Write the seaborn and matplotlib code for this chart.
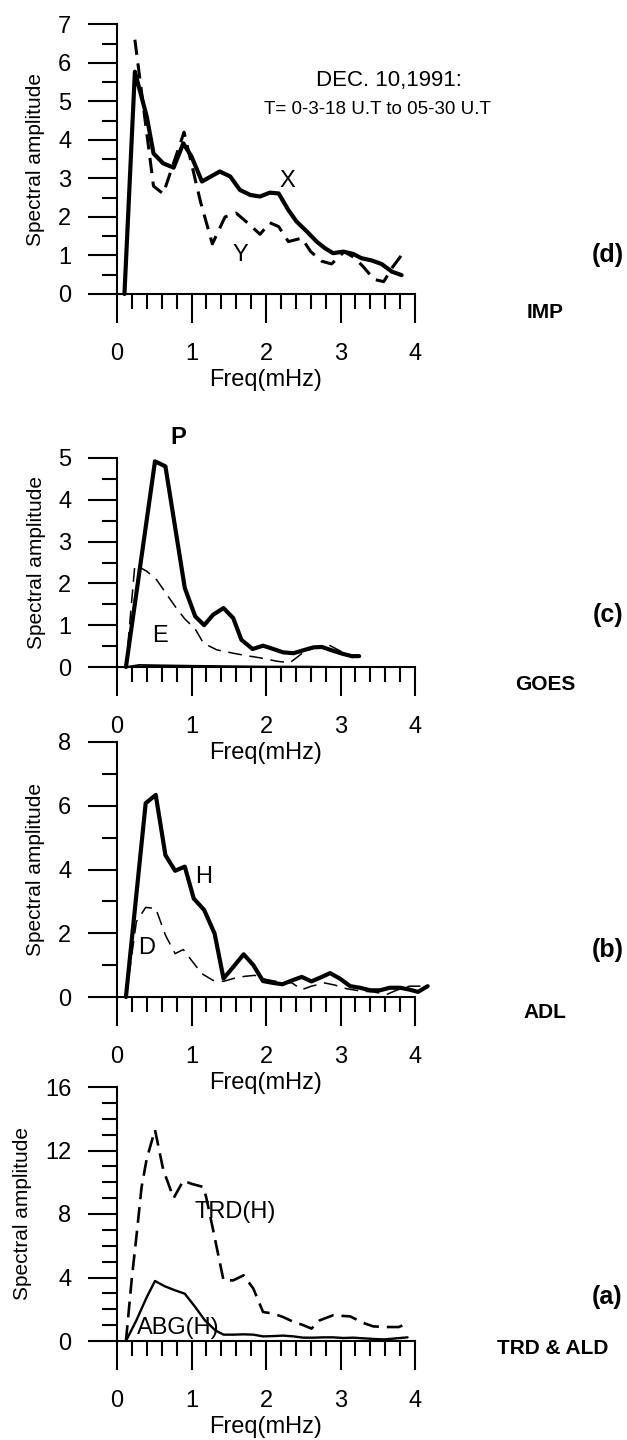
import matplotlib
matplotlib.use("Agg")
import matplotlib.pyplot as plt
import seaborn as sns
from matplotlib.ticker import MultipleLocator

# (d) IMP
imp_x_freq = [0.10, 0.24, 0.40, 0.49, 0.62, 0.76, 0.89, 1.00, 1.14, 1.38, 1.52, 1.65, 1.79, 1.92,
              2.05, 2.17, 2.30, 2.41, 2.55, 2.68, 2.79, 2.90, 3.04, 3.17, 3.28, 3.42, 3.55, 3.69, 3.82]
imp_x_amp = [0.0, 5.77, 4.6, 3.65, 3.39, 3.28, 3.91, 3.57, 2.92, 3.18, 3.05, 2.7, 2.57, 2.53,
             2.63, 2.61, 2.18, 1.88, 1.62, 1.36, 1.19, 1.06, 1.10, 1.04, 0.93, 0.87, 0.78, 0.58, 0.49]
imp_y_freq = [0.24, 0.49, 0.62, 0.90, 1.12, 1.28, 1.45, 1.60, 1.75, 1.92, 2.05, 2.17, 2.30, 2.48,
              2.60, 2.75, 2.88, 3.05, 3.18, 3.30, 3.45, 3.58, 3.70, 3.82]
imp_y_amp = [6.6, 2.8, 2.6, 4.2, 2.4, 1.3, 2.0, 2.1, 1.85, 1.55, 1.85, 1.75, 1.36, 1.45,
             1.1, 0.85, 0.78, 1.1, 0.95, 0.72, 0.38, 0.32, 0.7, 1.01]

# (c) GOES
goes_p_freq = [0.12, 0.51, 0.65, 0.91, 1.05, 1.17, 1.29, 1.43, 1.56, 1.67, 1.82, 1.96, 2.10, 2.23,
               2.37, 2.50, 2.64, 2.75, 2.88, 3.02, 3.15, 3.25]
goes_p_amp = [0.0, 4.92, 4.8, 1.89, 1.21, 1.0, 1.25, 1.41, 1.17, 0.65, 0.43, 0.51, 0.43, 0.35,
              0.33, 0.40, 0.47, 0.48, 0.40, 0.32, 0.26, 0.26]
goes_e_freq = [0.12, 0.24, 0.40, 0.53, 0.78, 0.91, 1.05, 1.16, 1.34, 1.56, 1.74, 1.92, 2.14, 2.32,
               2.48, 2.66, 2.84, 3.17]
goes_e_amp = [0.0, 2.45, 2.29, 2.09, 1.45, 1.15, 0.91, 0.57, 0.41, 0.33, 0.27, 0.22, 0.14, 0.10,
              0.32, 0.48, 0.53, 0.22]
goes_z_freq = [0.12, 0.30, 0.60, 1.00, 1.50, 2.00, 2.50, 3.00]
goes_z_amp = [0.0, 0.05, 0.04, 0.03, 0.02, 0.01, 0.01, 0.0]

# (b) ADL
adl_h_freq = [0.12, 0.385, 0.52, 0.65, 0.78, 0.91, 1.03, 1.17, 1.31, 1.43, 1.56, 1.70, 1.83, 1.96,
              2.10, 2.22, 2.35, 2.48, 2.61, 2.75, 2.86, 2.99, 3.13, 3.26, 3.40, 3.53, 3.66, 3.80,
              3.93, 4.04, 4.17]
adl_h_amp = [0.0, 6.08, 6.34, 4.45, 3.96, 4.09, 3.09, 2.73, 1.99, 0.58, 0.94, 1.34, 1.0, 0.5,
             0.44, 0.40, 0.52, 0.63, 0.49, 0.63, 0.75, 0.58, 0.34, 0.29, 0.21, 0.21, 0.29, 0.29,
             0.23, 0.16, 0.34]
adl_d_freq = [0.12, 0.26, 0.385, 0.52, 0.65, 0.78, 0.89, 1.00, 1.14, 1.29, 1.43, 1.56, 1.72, 1.85,
              2.00, 2.19, 2.35, 2.48, 2.61, 2.79, 2.93, 3.08, 3.26, 3.44, 3.62, 3.75, 3.93, 4.11]
adl_d_amp = [0.0, 2.36, 2.81, 2.78, 1.94, 1.36, 1.49, 1.15, 0.73, 0.52, 0.49, 0.58, 0.65, 0.68,
             0.55, 0.47, 0.44, 0.23, 0.34, 0.44, 0.37, 0.26, 0.19, 0.16, 0.08, 0.21, 0.34, 0.34]

# (a) TRD & ALD
trd_freq = [0.12, 0.20, 0.26, 0.33, 0.40, 0.51, 0.62, 0.76, 0.89, 1.00, 1.16, 1.20, 1.29, 1.43,
            1.56, 1.70, 1.83, 1.96, 2.10, 2.23, 2.37, 2.50, 2.61, 2.72, 2.90, 3.13, 3.31, 3.44,
            3.62, 3.78, 3.84]
trd_amp = [0.0, 4.0, 6.55, 9.7, 11.5, 13.3, 10.8, 9.0, 10.1, 9.9, 9.7, 9.0, 7.0, 3.82,
           3.82, 4.14, 3.3, 1.83, 1.72, 1.51, 1.2, 1.0, 0.78, 1.3, 1.62, 1.55, 1.13, 0.92,
           0.88, 0.88, 0.99]
abg_freq = [0.12, 0.26, 0.40, 0.51, 0.64, 0.78, 0.91, 1.05, 1.18, 1.32, 1.43, 1.56, 1.70, 1.83,
            1.96, 2.10, 2.23, 2.37, 2.50, 2.64, 2.77, 2.90, 3.04, 3.17, 3.31, 3.44, 3.58, 3.71, 3.90]
abg_amp = [0.0, 1.3, 2.77, 3.78, 3.45, 3.19, 2.98, 2.14, 1.3, 0.67, 0.4, 0.4, 0.42, 0.4,
           0.29, 0.31, 0.34, 0.29, 0.21, 0.21, 0.23, 0.23, 0.19, 0.21, 0.17, 0.13, 0.1, 0.15, 0.23]

sns.set_style("ticks")
plt.rcParams["font.family"] = ["Liberation Sans", "DejaVu Sans"]
plt.rcParams.update({"text.color": "black", "axes.labelcolor": "black",
                     "xtick.color": "black", "ytick.color": "black"})

W, H = 627, 1440
fig = plt.figure(figsize=(W / 100, H / 100), dpi=100)


def make_axes(top_px, bottom_px, ymax, ymaj, ymin):
    ax = fig.add_axes([117 / W, 1 - bottom_px / H, 298 / W, (bottom_px - top_px) / H])
    ax.set_facecolor("none")
    ax.set_xlim(0, 4)
    ax.set_ylim(0, ymax)
    ax.spines["top"].set_visible(False)
    ax.spines["right"].set_visible(False)
    for s in ("left", "bottom"):
        ax.spines[s].set_linewidth(1.5)
        ax.spines[s].set_color("black")
    ax.xaxis.set_major_locator(MultipleLocator(1))
    ax.xaxis.set_minor_locator(MultipleLocator(0.2))
    ax.yaxis.set_major_locator(MultipleLocator(ymaj))
    ax.yaxis.set_minor_locator(MultipleLocator(ymin))
    ax.tick_params(which="major", length=21, width=1.5, color="black", direction="out",
                   labelsize=17, labelcolor="black")
    ax.tick_params(which="minor", length=11, width=1.5, color="black", direction="out")
    ax.tick_params(axis="y", pad=12)
    ax.tick_params(axis="x", pad=14)
    ax.set_xlabel("Freq(mHz)", fontsize=17, labelpad=3)
    ax.set_ylabel("Spectral amplitude", fontsize=15, labelpad=9)
    return ax


def draw(ax, x, y, lw, ls="-"):
    sns.lineplot(x=x, y=y, ax=ax, color="black", linewidth=lw, linestyle=ls,
                 sort=False, errorbar=None, clip_on=False)


# (d)
ax_d = make_axes(24.3, 294, 7, 1, 0.5)
draw(ax_d, imp_y_freq, imp_y_amp, 2.2, (0, (5, 2.8)))
draw(ax_d, imp_x_freq, imp_x_amp, 3.0)
ax_d.text(2.29, 2.92, "X", fontsize=17, ha="center", va="center")
ax_d.text(1.65, 1.01, "Y", fontsize=17, ha="center", va="center")
ax_d.text(3.65, 5.53, "DEC. 10,1991:", fontsize=16, ha="center", va="center")
ax_d.text(3.5, 4.78, "T= 0-3-18 U.T to 05-30 U.T", fontsize=13.5, ha="center", va="center")

# (c)
ax_c = make_axes(458, 667, 5, 1, 0.5)
draw(ax_c, goes_z_freq, goes_z_amp, 1.3)
draw(ax_c, goes_e_freq, goes_e_amp, 1.1, (0, (9, 5)))
draw(ax_c, goes_p_freq, goes_p_amp, 3.0)
ax_c.text(0.82, 5.48, "P", fontsize=17, fontweight="bold", ha="center", va="center")
ax_c.text(0.58, 0.74, "E", fontsize=17, ha="center", va="center")

# (b)
ax_b = make_axes(742, 997, 8, 2, 1)
draw(ax_b, adl_d_freq, adl_d_amp, 1.1, (0, (9, 5)))
draw(ax_b, adl_h_freq, adl_h_amp, 3.0)
ax_b.text(1.16, 3.76, "H", fontsize=17, ha="center", va="center")
ax_b.text(0.40, 1.53, "D", fontsize=17, ha="center", va="center")

# (a)
ax_a = make_axes(1087, 1341, 16, 4, 1)
draw(ax_a, trd_freq, trd_amp, 1.9, (0, (6, 3)))
draw(ax_a, abg_freq, abg_amp, 1.7)
ax_a.text(1.58, 8.1, "TRD(H)", fontsize=17, ha="center", va="center")
ax_a.text(0.82, 0.82, "ABG(H)", fontsize=17, ha="center", va="center")

# panel tags on the right
side = [("(d)", 608, 255, 18), ("IMP", 545, 312, 15),
        ("(c)", 608, 615, 18), ("GOES", 545, 684, 15),
        ("(b)", 608, 950, 18), ("ADL", 545, 1012, 15),
        ("(a)", 607, 1297, 18), ("TRD & ALD", 553, 1348, 15)]
for txt, px, py, fs in side:
    fig.text(px / W, 1 - py / H, txt, fontsize=fs, fontweight="bold", ha="center", va="center")

fig.savefig("out.png", dpi=100, facecolor="white")
